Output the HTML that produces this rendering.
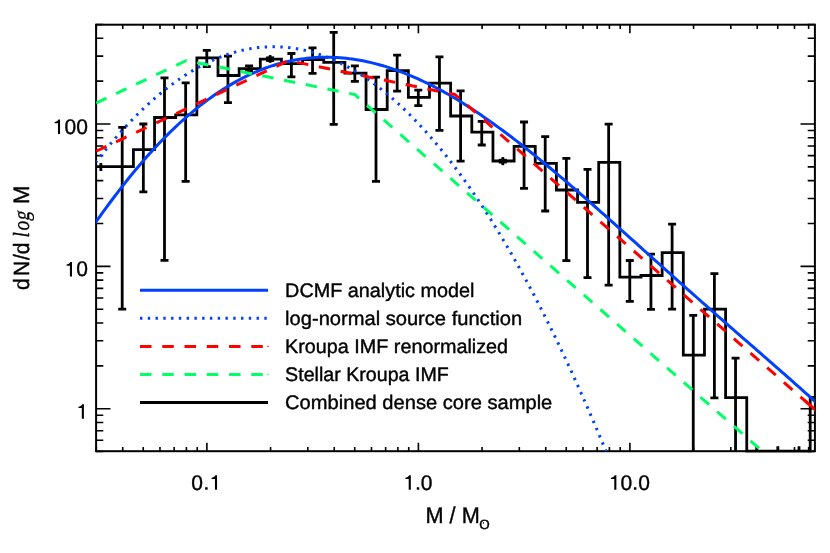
<!DOCTYPE html>
<html><head><meta charset="utf-8"><title>DCMF</title>
<style>html,body{margin:0;padding:0;background:#fff;}svg{display:block;}text{text-rendering:geometricPrecision;}#lg{opacity:0.999;}</style></head>
<body>
<svg width="830" height="553" viewBox="0 0 830 553">
<rect x="0" y="0" width="830" height="553" fill="#fff"/>
<defs><clipPath id="c"><rect x="96.1" y="24.7" width="718.8" height="426.5"/></clipPath><clipPath id="c2"><rect x="96.1" y="24.7" width="718.8" height="428.1"/></clipPath></defs>
<path d="M96.31 451.2v-4.3M96.31 24.7v4.3M122.74 451.2v-4.3M122.74 24.7v4.3M143.23 451.2v-4.3M143.23 24.7v4.3M159.98 451.2v-4.3M159.98 24.7v4.3M174.14 451.2v-4.3M174.14 24.7v4.3M186.40 451.2v-4.3M186.40 24.7v4.3M197.22 451.2v-4.3M197.22 24.7v4.3M206.90 451.2v-8.5M206.90 24.7v8.5M270.57 451.2v-4.3M270.57 24.7v4.3M307.81 451.2v-4.3M307.81 24.7v4.3M334.24 451.2v-4.3M334.24 24.7v4.3M354.73 451.2v-4.3M354.73 24.7v4.3M371.48 451.2v-4.3M371.48 24.7v4.3M385.64 451.2v-4.3M385.64 24.7v4.3M397.90 451.2v-4.3M397.90 24.7v4.3M408.72 451.2v-4.3M408.72 24.7v4.3M418.40 451.2v-8.5M418.40 24.7v8.5M482.07 451.2v-4.3M482.07 24.7v4.3M519.31 451.2v-4.3M519.31 24.7v4.3M545.74 451.2v-4.3M545.74 24.7v4.3M566.23 451.2v-4.3M566.23 24.7v4.3M582.98 451.2v-4.3M582.98 24.7v4.3M597.14 451.2v-4.3M597.14 24.7v4.3M609.40 451.2v-4.3M609.40 24.7v4.3M620.22 451.2v-4.3M620.22 24.7v4.3M629.90 451.2v-8.5M629.90 24.7v8.5M693.57 451.2v-4.3M693.57 24.7v4.3M730.81 451.2v-4.3M730.81 24.7v4.3M757.24 451.2v-4.3M757.24 24.7v4.3M777.73 451.2v-4.3M777.73 24.7v4.3M794.48 451.2v-4.3M794.48 24.7v4.3M808.64 451.2v-4.3M808.64 24.7v4.3M96.1 451.55h7.2M814.9 451.55h-7.2M96.1 440.28h7.2M814.9 440.28h-7.2M96.1 430.75h7.2M814.9 430.75h-7.2M96.1 422.50h7.2M814.9 422.50h-7.2M96.1 415.21h7.2M814.9 415.21h-7.2M96.1 408.70h14.4M814.9 408.70h-14.4M96.1 365.85h7.2M814.9 365.85h-7.2M96.1 340.78h7.2M814.9 340.78h-7.2M96.1 323.00h7.2M814.9 323.00h-7.2M96.1 309.20h7.2M814.9 309.20h-7.2M96.1 297.93h7.2M814.9 297.93h-7.2M96.1 288.40h7.2M814.9 288.40h-7.2M96.1 280.15h7.2M814.9 280.15h-7.2M96.1 272.86h7.2M814.9 272.86h-7.2M96.1 266.35h14.4M814.9 266.35h-14.4M96.1 223.50h7.2M814.9 223.50h-7.2M96.1 198.43h7.2M814.9 198.43h-7.2M96.1 180.65h7.2M814.9 180.65h-7.2M96.1 166.85h7.2M814.9 166.85h-7.2M96.1 155.58h7.2M814.9 155.58h-7.2M96.1 146.05h7.2M814.9 146.05h-7.2M96.1 137.80h7.2M814.9 137.80h-7.2M96.1 130.51h7.2M814.9 130.51h-7.2M96.1 124.00h14.4M814.9 124.00h-14.4M96.1 81.15h7.2M814.9 81.15h-7.2M96.1 56.08h7.2M814.9 56.08h-7.2M96.1 38.30h7.2M814.9 38.30h-7.2M96.1 24.50h7.2M814.9 24.50h-7.2" stroke="#000" stroke-width="1.6" fill="none"/>
<rect x="96.1" y="24.7" width="718.8" height="426.5" fill="none" stroke="#000" stroke-width="2.0"/>
<path d="M93.10 166.60H112.25V166.60H133.40V149.60H154.55V117.50H175.70V114.90H196.85V57.90H218.00V75.50H239.15V68.70H260.30V59.20H281.45V63.60H302.60V59.50H323.75V62.40H344.90V73.20H366.05V109.50H387.20V70.70H408.35V97.30H429.50V83.20H450.65V116.00H471.80V132.20H492.95V161.00H514.10V146.40H535.25V163.30H556.40V190.00H577.55V202.30H598.70V162.40H619.85V277.20H641.00V275.50H662.15V252.60H683.30V355.20H704.45V309.20H725.60V397.60H746.75V451.20H767.90V451.20H789.05V451.20H810.20V397.40H817.90" fill="none" stroke="#000" stroke-width="2.8" stroke-linejoin="miter" clip-path="url(#c2)"/>
<g clip-path="url(#c)" fill="none">
<path d="M122.20 127.30V309.20M118.20 127.30h8.0M118.20 309.20h8.0M143.35 124.00V191.90M139.35 124.00h8.0M139.35 191.90h8.0M164.50 77.80V260.40M160.50 77.80h8.0M160.50 260.40h8.0M185.65 82.90V181.40M181.65 82.90h8.0M181.65 181.40h8.0M206.80 50.30V66.60M202.80 50.30h8.0M202.80 66.60h8.0M227.95 56.10V102.70M223.95 56.10h8.0M223.95 102.70h8.0M249.10 65.80V70.60M245.10 65.80h8.0M245.10 70.60h8.0M291.40 53.50V76.90M287.40 53.50h8.0M287.40 76.90h8.0M312.55 47.90V73.30M308.55 47.90h8.0M308.55 73.30h8.0M333.70 32.30V124.30M329.70 32.30h8.0M329.70 124.30h8.0M354.85 65.90V81.40M350.85 65.90h8.0M350.85 81.40h8.0M376.00 77.20V181.40M372.00 77.20h8.0M372.00 181.40h8.0M397.15 55.10V91.10M393.15 55.10h8.0M393.15 91.10h8.0M418.30 90.10V105.70M414.30 90.10h8.0M414.30 105.70h8.0M439.45 56.90V130.30M435.45 56.90h8.0M435.45 130.30h8.0M460.60 90.80V161.10M456.60 90.80h8.0M456.60 161.10h8.0M481.75 121.30V145.00M477.75 121.30h8.0M477.75 145.00h8.0M524.05 122.00V188.30M520.05 122.00h8.0M520.05 188.30h8.0M545.20 136.60V211.00M541.20 136.60h8.0M541.20 211.00h8.0M566.35 158.40V260.60M562.35 158.40h8.0M562.35 260.60h8.0M587.50 169.30V277.60M583.50 169.30h8.0M583.50 277.60h8.0M608.65 124.20V285.20M604.65 124.20h8.0M604.65 285.20h8.0M629.80 260.50V301.40M625.80 260.50h8.0M625.80 301.40h8.0M650.95 254.10V309.30M646.95 254.10h8.0M646.95 309.30h8.0M672.10 224.20V309.20M668.10 224.20h8.0M668.10 309.20h8.0M693.25 315.30V456.20M689.25 315.30h8.0M714.40 273.60V397.90M710.40 273.60h8.0M710.40 397.90h8.0M735.55 358.20V456.20M731.55 358.20h8.0M100.85 163V171M756.70 451.2v-5M777.85 451.2v-5M799.00 451.2v-5" stroke="#000" stroke-width="2.8"/>
<rect x="268.75" y="55.1" width="2.8" height="7.70" fill="#000"/><rect x="266.15" y="56.4" width="8.0" height="5.50" fill="#000"/><rect x="501.40" y="157.1" width="2.8" height="8.10" fill="#000"/><rect x="498.80" y="158.8" width="8.0" height="4.70" fill="#000"/>
<path d="M94.10 224.53L97.10 220.23L100.10 216.03L103.10 211.88L106.10 207.79L109.10 203.75L112.10 199.76L115.10 195.75L118.10 191.80L121.10 187.89L124.10 184.05L127.10 180.26L130.10 176.52L133.10 172.84L136.10 169.22L139.10 165.66L142.10 162.15L145.10 158.70L148.10 155.30L151.10 151.97L154.10 148.69L157.10 145.46L160.10 142.30L163.10 139.19L166.10 136.14L169.10 133.15L172.10 130.22L175.10 127.35L178.10 124.53L181.10 121.77L184.10 119.07L187.10 116.43L190.10 113.85L193.10 111.32L196.10 108.86L199.10 106.45L202.10 104.10L205.10 101.81L208.10 99.58L211.10 97.41L214.10 95.30L217.10 93.24L220.10 91.25L223.10 89.31L226.10 87.43L229.10 85.60L232.10 83.84L235.10 82.14L238.10 80.49L241.10 78.90L244.10 77.37L247.10 75.89L250.10 74.48L253.10 73.12L256.10 71.81L259.10 70.57L262.10 69.38L265.10 68.25L268.10 67.18L271.10 66.16L274.10 65.20L277.10 64.29L280.10 63.44L283.10 62.65L286.10 61.91L289.10 61.22L292.10 60.59L295.10 60.02L298.10 59.50L301.10 59.03L304.10 58.62L307.10 58.26L310.10 57.96L313.10 57.70L316.10 57.50L319.10 57.36L322.10 57.26L325.10 57.22L328.10 57.22L331.10 57.28L334.10 57.39L337.10 57.55L340.10 57.76L343.10 58.01L346.10 58.30L349.10 58.64L352.10 59.04L355.10 59.48L358.10 59.97L361.10 60.50L364.10 61.08L367.10 61.71L370.10 62.38L373.10 63.10L376.10 63.87L379.10 64.68L382.10 65.53L385.10 66.43L388.10 67.37L391.10 68.35L394.10 69.37L397.10 70.44L400.10 71.55L403.10 72.68L406.10 73.86L409.10 75.08L412.10 76.33L415.10 77.63L418.10 78.96L421.10 80.33L424.10 81.74L427.10 83.19L430.10 84.67L433.10 86.18L436.10 87.73L439.10 89.32L442.10 90.94L445.10 92.59L448.10 94.28L451.10 96.01L454.10 97.78L457.10 99.59L460.10 101.43L463.10 103.29L466.10 105.19L469.10 107.12L472.10 109.07L475.10 111.05L478.10 113.06L481.10 115.10L484.10 117.16L487.10 119.25L490.10 121.36L493.10 123.50L496.10 125.66L499.10 127.84L502.10 130.05L505.10 132.28L508.10 134.53L511.10 136.80L514.10 139.09L517.10 141.41L520.10 143.74L523.10 146.09L526.10 148.46L529.10 150.85L532.10 153.25L535.10 155.67L538.10 158.11L541.10 160.56L544.10 163.03L547.10 165.51L550.10 168.00L553.10 170.51L556.10 173.03L559.10 175.57L562.10 178.11L565.10 180.67L568.10 183.24L571.10 185.82L574.10 188.40L577.10 191.00L580.10 193.61L583.10 196.22L586.10 198.84L589.10 201.47L592.10 204.11L595.10 206.75L598.10 209.40L601.10 212.05L604.10 214.71L607.10 217.38L610.10 220.04L613.10 222.71L616.10 225.39L619.10 228.07L622.10 230.75L625.10 233.43L628.10 236.12L631.10 238.80L634.10 241.49L637.10 244.18L640.10 246.87L643.10 249.56L646.10 252.25L649.10 254.94L652.10 257.63L655.10 260.32L658.10 263.00L661.10 265.69L664.10 268.37L667.10 271.05L670.10 273.73L673.10 276.41L676.10 279.09L679.10 281.76L682.10 284.43L685.10 287.10L688.10 289.77L691.10 292.43L694.10 295.09L697.10 297.75L700.10 300.40L703.10 303.05L706.10 305.70L709.10 308.34L712.10 310.98L715.10 313.62L718.10 316.26L721.10 318.89L724.10 321.52L727.10 324.15L730.10 326.78L733.10 329.40L736.10 332.02L739.10 334.64L742.10 337.26L745.10 339.87L748.10 342.49L751.10 345.10L754.10 347.72L757.10 350.33L760.10 352.94L763.10 355.56L766.10 358.18L769.10 360.79L772.10 363.41L775.10 366.04L778.10 368.66L781.10 371.29L784.10 373.92L787.10 376.56L790.10 379.20L793.10 381.85L796.10 384.51L799.10 387.17L802.10 389.84L805.10 392.52L808.10 395.21L811.10 397.91L814.10 400.63L817.10 403.35" stroke="#0040ff" stroke-width="3.0"/>
<path d="M96.10 161.86L97.10 160.57L98.10 159.28L99.10 158.00L100.10 156.73L101.10 155.46L102.10 154.20L103.10 152.95L104.10 151.71L105.10 150.47L106.10 149.24L107.10 148.02L108.10 146.81L109.10 145.60L110.10 144.40L111.10 143.21L112.10 142.03L113.10 140.85L114.10 139.68L115.10 138.52L116.10 137.36L117.10 136.21L118.10 135.07L119.10 133.94L120.10 132.81L121.10 131.69L122.10 130.58L123.10 129.48L124.10 128.38L125.10 127.29L126.10 126.21L127.10 125.13L128.10 124.07L129.10 123.01L130.10 121.95L131.10 120.91L132.10 119.87L133.10 118.84L134.10 117.82L135.10 116.80L136.10 115.79L137.10 114.79L138.10 113.79L139.10 112.81L140.10 111.83L141.10 110.85L142.10 109.89L143.10 108.93L144.10 107.98L145.10 107.04L146.10 106.10L147.10 105.17L148.10 104.25L149.10 103.34L150.10 102.43L151.10 101.53L152.10 100.64L153.10 99.76L154.10 98.88L155.10 98.01L156.10 97.15L157.10 96.29L158.10 95.44L159.10 94.60L160.10 93.77L161.10 92.94L162.10 92.12L163.10 91.31L164.10 90.51L165.10 89.71L166.10 88.92L167.10 88.14L168.10 87.36L169.10 86.60L170.10 85.84L171.10 85.08L172.10 84.34L173.10 83.60L174.10 82.87L175.10 82.15L176.10 81.43L177.10 80.72L178.10 80.02L179.10 79.32L180.10 78.64L181.10 77.96L182.10 77.29L183.10 76.62L184.10 75.96L185.10 75.31L186.10 74.67L187.10 74.03L188.10 73.40L189.10 72.78L190.10 72.17L191.10 71.56L192.10 70.96L193.10 70.37L194.10 69.79L195.10 69.21L196.10 68.64L197.10 68.08L198.10 67.52L199.10 66.97L200.10 66.43L201.10 65.90L202.10 65.37L203.10 64.86L204.10 64.34L205.10 63.84L206.10 63.34L207.10 62.85L208.10 62.37L209.10 61.90L210.10 61.43L211.10 60.97L212.10 60.52L213.10 60.07L214.10 59.63L215.10 59.20L216.10 58.78L217.10 58.36L218.10 57.95L219.10 57.55L220.10 57.16L221.10 56.77L222.10 56.39L223.10 56.02L224.10 55.65L225.10 55.30L226.10 54.95L227.10 54.60L228.10 54.27L229.10 53.94L230.10 53.62L231.10 53.30L232.10 53.00L233.10 52.70L234.10 52.41L235.10 52.12L236.10 51.84L237.10 51.57L238.10 51.31L239.10 51.06L240.10 50.81L241.10 50.57L242.10 50.33L243.10 50.11L244.10 49.89L245.10 49.68L246.10 49.47L247.10 49.28L248.10 49.09L249.10 48.91L250.10 48.73L251.10 48.56L252.10 48.40L253.10 48.25L254.10 48.11L255.10 47.97L256.10 47.84L257.10 47.71L258.10 47.60L259.10 47.49L260.10 47.39L261.10 47.29L262.10 47.21L263.10 47.13L264.10 47.05L265.10 46.99L266.10 46.93L267.10 46.88L268.10 46.84L269.10 46.80L270.10 46.77L271.10 46.75L272.10 46.74L273.10 46.73L274.10 46.73L275.10 46.74L276.10 46.76L277.10 46.78L278.10 46.81L279.10 46.85L280.10 46.89L281.10 46.95L282.10 47.00L283.10 47.07L284.10 47.15L285.10 47.23L286.10 47.32L287.10 47.41L288.10 47.51L289.10 47.63L290.10 47.74L291.10 47.87L292.10 48.00L293.10 48.14L294.10 48.29L295.10 48.44L296.10 48.61L297.10 48.77L298.10 48.95L299.10 49.14L300.10 49.33L301.10 49.52L302.10 49.73L303.10 49.94L304.10 50.16L305.10 50.39L306.10 50.63L307.10 50.87L308.10 51.12L309.10 51.38L310.10 51.64L311.10 51.91L312.10 52.19L313.10 52.48L314.10 52.77L315.10 53.07L316.10 53.38L317.10 53.70L318.10 54.02L319.10 54.35L320.10 54.69L321.10 55.03L322.10 55.38L323.10 55.74L324.10 56.11L325.10 56.48L326.10 56.87L327.10 57.25L328.10 57.65L329.10 58.05L330.10 58.47L331.10 58.88L332.10 59.31L333.10 59.74L334.10 60.18L335.10 60.63L336.10 61.08L337.10 61.55L338.10 62.01L339.10 62.49L340.10 62.98L341.10 63.47L342.10 63.96L343.10 64.47L344.10 64.98L345.10 65.50L346.10 66.03L347.10 66.57L348.10 67.11L349.10 67.66L350.10 68.22L351.10 68.78L352.10 69.35L353.10 69.93L354.10 70.52L355.10 71.11L356.10 71.71L357.10 72.32L358.10 72.94L359.10 73.56L360.10 74.19L361.10 74.83L362.10 75.47L363.10 76.13L364.10 76.79L365.10 77.45L366.10 78.13L367.10 78.81L368.10 79.50L369.10 80.19L370.10 80.90L371.10 81.61L372.10 82.33L373.10 83.05L374.10 83.78L375.10 84.52L376.10 85.27L377.10 86.03L378.10 86.79L379.10 87.56L380.10 88.33L381.10 89.12L382.10 89.91L383.10 90.71L384.10 91.51L385.10 92.33L386.10 93.15L387.10 93.98L388.10 94.81L389.10 95.65L390.10 96.50L391.10 97.36L392.10 98.22L393.10 99.10L394.10 99.98L395.10 100.86L396.10 101.76L397.10 102.66L398.10 103.57L399.10 104.48L400.10 105.40L401.10 106.33L402.10 107.27L403.10 108.22L404.10 109.17L405.10 110.13L406.10 111.10L407.10 112.07L408.10 113.05L409.10 114.04L410.10 115.04L411.10 116.04L412.10 117.05L413.10 118.07L414.10 119.10L415.10 120.13L416.10 121.17L417.10 122.22L418.10 123.27L419.10 124.33L420.10 125.40L421.10 126.48L422.10 127.56L423.10 128.65L424.10 129.75L425.10 130.86L426.10 131.97L427.10 133.09L428.10 134.22L429.10 135.36L430.10 136.50L431.10 137.65L432.10 138.81L433.10 139.97L434.10 141.14L435.10 142.32L436.10 143.51L437.10 144.70L438.10 145.90L439.10 147.11L440.10 148.33L441.10 149.55L442.10 150.78L443.10 152.02L444.10 153.26L445.10 154.52L446.10 155.78L447.10 157.04L448.10 158.32L449.10 159.60L450.10 160.89L451.10 162.18L452.10 163.49L453.10 164.80L454.10 166.12L455.10 167.44L456.10 168.77L457.10 170.11L458.10 171.46L459.10 172.82L460.10 174.18L461.10 175.55L462.10 176.93L463.10 178.31L464.10 179.70L465.10 181.10L466.10 182.51L467.10 183.92L468.10 185.34L469.10 186.77L470.10 188.20L471.10 189.65L472.10 191.10L473.10 192.55L474.10 194.02L475.10 195.49L476.10 196.97L477.10 198.46L478.10 199.95L479.10 201.45L480.10 202.96L481.10 204.48L482.10 206.00L483.10 207.53L484.10 209.07L485.10 210.61L486.10 212.16L487.10 213.72L488.10 215.29L489.10 216.87L490.10 218.45L491.10 220.04L492.10 221.63L493.10 223.24L494.10 224.85L495.10 226.47L496.10 228.09L497.10 229.72L498.10 231.36L499.10 233.01L500.10 234.67L501.10 236.33L502.10 238.00L503.10 239.68L504.10 241.36L505.10 243.05L506.10 244.75L507.10 246.46L508.10 248.17L509.10 249.89L510.10 251.62L511.10 253.35L512.10 255.10L513.10 256.85L514.10 258.60L515.10 260.37L516.10 262.14L517.10 263.92L518.10 265.71L519.10 267.50L520.10 269.30L521.10 271.11L522.10 272.93L523.10 274.75L524.10 276.58L525.10 278.42L526.10 280.26L527.10 282.12L528.10 283.97L529.10 285.84L530.10 287.72L531.10 289.60L532.10 291.49L533.10 293.38L534.10 295.29L535.10 297.20L536.10 299.12L537.10 301.04L538.10 302.98L539.10 304.92L540.10 306.86L541.10 308.82L542.10 310.78L543.10 312.75L544.10 314.73L545.10 316.71L546.10 318.70L547.10 320.70L548.10 322.71L549.10 324.72L550.10 326.74L551.10 328.77L552.10 330.81L553.10 332.85L554.10 334.90L555.10 336.96L556.10 339.02L557.10 341.09L558.10 343.17L559.10 345.26L560.10 347.35L561.10 349.45L562.10 351.56L563.10 353.68L564.10 355.80L565.10 357.93L566.10 360.07L567.10 362.22L568.10 364.37L569.10 366.53L570.10 368.70L571.10 370.87L572.10 373.05L573.10 375.24L574.10 377.44L575.10 379.64L576.10 381.85L577.10 384.07L578.10 386.30L579.10 388.53L580.10 390.77L581.10 393.02L582.10 395.27L583.10 397.54L584.10 399.80L585.10 402.08L586.10 404.37L587.10 406.66L588.10 408.96L589.10 411.26L590.10 413.58L591.10 415.90L592.10 418.23L593.10 420.56L594.10 422.90L595.10 425.25L596.10 427.61L597.10 429.98L598.10 432.35L599.10 434.73L600.10 437.11L601.10 439.51L602.10 441.91L603.10 444.32L604.10 446.73L605.10 449.16L606.10 451.59L607.10 454.03L608.10 456.47L609.10 458.92L610.10 461.38L611.10 463.85L612.10 466.33L613.10 468.81L614.10 471.30L615.10 473.79L616.10 476.30L617.10 478.81L618.10 481.33L619.10 483.85" stroke="#0040ff" stroke-width="3.0" stroke-dasharray="2.4 5.42" stroke-dashoffset="1.0"/>
<path d="M96.10 151.25L288.50 60.60L455.00 94.55L819.90 413.82" stroke="#ff0000" stroke-width="3.0" stroke-dasharray="11.45 10.7" stroke-linejoin="round"/>
<path d="M804.5 400.35L816.9 411.20" stroke="#ff0000" stroke-width="3.0"/>
<path d="M96.10 103.04L186.40 60.50L354.70 94.48L819.90 501.52" stroke="#00ff66" stroke-width="3.0" stroke-dasharray="11.45 10.7" stroke-linejoin="round"/>
</g>
<g id="lg">
<path d="M140.0 290.3H268.0" stroke="#0040ff" stroke-width="3.0"/>
<path d="M140.0 318.3H268.0" stroke="#0040ff" stroke-width="3.0" stroke-dasharray="2.4 5.37"/>
<path d="M140.0 346.4H268.0" stroke="#ff0000" stroke-width="3.0" stroke-dasharray="11.5 10.76"/>
<path d="M140.0 374.4H268.0" stroke="#00ff66" stroke-width="3.0" stroke-dasharray="11.5 10.76"/>
<path d="M140.0 402.4H268.0" stroke="#000" stroke-width="3.0"/>
<rect x="267.3" y="345.7" width="1.2" height="1.4" fill="#ff0000"/><rect x="267.3" y="373.7" width="1.2" height="1.4" fill="#00ff66"/>
<text x="285.1" y="297.1" font-family="Liberation Sans, sans-serif" stroke="#000" stroke-width="0.4" stroke-linejoin="round" font-size="19.6" textLength="189.3" lengthAdjust="spacingAndGlyphs">DCMF analytic model</text>
<text x="285.1" y="325.1" font-family="Liberation Sans, sans-serif" stroke="#000" stroke-width="0.4" stroke-linejoin="round" font-size="19.6" textLength="237.0" lengthAdjust="spacingAndGlyphs">log-normal source function</text>
<text x="285.1" y="353.2" font-family="Liberation Sans, sans-serif" stroke="#000" stroke-width="0.4" stroke-linejoin="round" font-size="19.6" textLength="223.0" lengthAdjust="spacingAndGlyphs">Kroupa IMF renormalized</text>
<text x="285.1" y="381.2" font-family="Liberation Sans, sans-serif" stroke="#000" stroke-width="0.4" stroke-linejoin="round" font-size="19.6" textLength="163.70000000000002" lengthAdjust="spacingAndGlyphs">Stellar Kroupa IMF</text>
<text x="285.1" y="409.2" font-family="Liberation Sans, sans-serif" stroke="#000" stroke-width="0.4" stroke-linejoin="round" font-size="19.6" textLength="267.2" lengthAdjust="spacingAndGlyphs">Combined dense core sample</text>
<path transform="translate(52.72,134.00) scale(0.010254,-0.010254)" d="M510 0V1045H185V1165C330 1180 490 1250 560 1409H715V0Z" fill="#000"/><text x="64.58" y="134.00" font-family="Liberation Sans, sans-serif" stroke="#000" stroke-width="0.4" stroke-linejoin="round" font-size="21">0</text><text x="76.18" y="134.00" font-family="Liberation Sans, sans-serif" stroke="#000" stroke-width="0.4" stroke-linejoin="round" font-size="21">0</text>
<path transform="translate(64.67,276.40) scale(0.010254,-0.010254)" d="M510 0V1045H185V1165C330 1180 490 1250 560 1409H715V0Z" fill="#000"/><text x="76.18" y="276.40" font-family="Liberation Sans, sans-serif" stroke="#000" stroke-width="0.4" stroke-linejoin="round" font-size="21">0</text>
<path transform="translate(76.57,418.70) scale(0.010254,-0.010254)" d="M510 0V1045H185V1165C330 1180 490 1250 560 1409H715V0Z" fill="#000"/>
<text x="191.34" y="489.70" font-family="Liberation Sans, sans-serif" stroke="#000" stroke-width="0.4" stroke-linejoin="round" font-size="21">0</text><rect x="205.15" y="487.25" width="2.5" height="2.45" fill="#000"/><path transform="translate(209.73,489.70) scale(0.010254,-0.010254)" d="M510 0V1045H185V1165C330 1180 490 1250 560 1409H715V0Z" fill="#000"/>
<path transform="translate(403.47,489.70) scale(0.010254,-0.010254)" d="M510 0V1045H185V1165C330 1180 490 1250 560 1409H715V0Z" fill="#000"/><rect x="416.75" y="487.25" width="2.5" height="2.45" fill="#000"/><text x="420.73" y="489.70" font-family="Liberation Sans, sans-serif" stroke="#000" stroke-width="0.4" stroke-linejoin="round" font-size="21">0</text>
<path transform="translate(609.04,489.70) scale(0.010254,-0.010254)" d="M510 0V1045H185V1165C330 1180 490 1250 560 1409H715V0Z" fill="#000"/><text x="620.48" y="489.70" font-family="Liberation Sans, sans-serif" stroke="#000" stroke-width="0.4" stroke-linejoin="round" font-size="21">0</text><rect x="633.90" y="487.25" width="2.5" height="2.45" fill="#000"/><text x="638.18" y="489.70" font-family="Liberation Sans, sans-serif" stroke="#000" stroke-width="0.4" stroke-linejoin="round" font-size="21">0</text>
<text transform="translate(425.5,522.9) scale(0.956,1)" font-family="Liberation Sans, sans-serif" stroke="#000" stroke-width="0.4" stroke-linejoin="round" font-size="22.7">M / M</text>
<text x="479.3" y="529.4" font-family="Liberation Sans, sans-serif" stroke="#000" stroke-width="0.4" stroke-linejoin="round" font-size="13.4">O</text><rect x="482.9" y="522.3" width="1.1" height="1.3" fill="#000"/>
<g transform="translate(29,290.0) rotate(-90)"><text transform="translate(0.0,0) scale(0.955,1)" font-family="Liberation Sans, sans-serif" stroke="#000" stroke-width="0.4" stroke-linejoin="round" font-size="22">d</text><text transform="translate(13.9,0) scale(0.955,1)" font-family="Liberation Sans, sans-serif" stroke="#000" stroke-width="0.4" stroke-linejoin="round" font-size="22">N</text><text transform="translate(30.0,0) scale(0.955,1)" font-family="Liberation Sans, sans-serif" stroke="#000" stroke-width="0.4" stroke-linejoin="round" font-size="22">/</text><text transform="translate(35.7,0) scale(0.955,1)" font-family="Liberation Sans, sans-serif" stroke="#000" stroke-width="0.4" stroke-linejoin="round" font-size="22">d</text><text transform="translate(52.6,0) scale(0.84,1)" font-family="Liberation Serif, serif" stroke="#000" stroke-width="0.3" stroke-linejoin="round" font-style="italic" font-size="23.2">l</text><text transform="translate(59.43,0) scale(0.84,1)" font-family="Liberation Serif, serif" stroke="#000" stroke-width="0.3" stroke-linejoin="round" font-style="italic" font-size="23.2">o</text><text transform="translate(69.0,0) scale(0.8,1) skewX(-13.2)" font-family="Liberation Serif, serif" stroke="#000" stroke-width="0.3" stroke-linejoin="round" font-size="23">g</text><text x="86.1" y="0" font-family="Liberation Sans, sans-serif" stroke="#000" stroke-width="0.4" stroke-linejoin="round" font-size="22.2">M</text></g>
</g>
</svg>
</body></html>
